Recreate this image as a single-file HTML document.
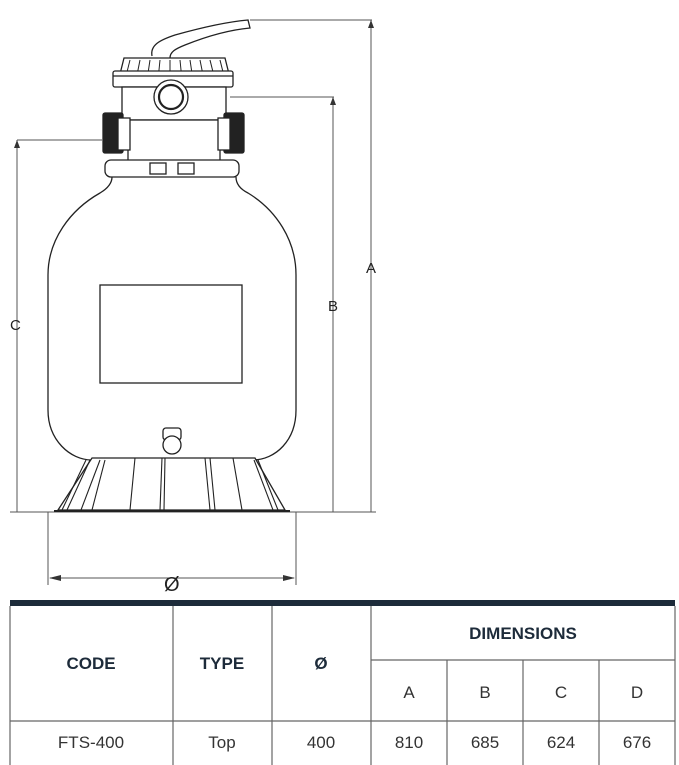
<!DOCTYPE html>
<html><head><style>
body{margin:0;background:#fff;width:679px;height:765px;overflow:hidden;font-family:"Liberation Sans",sans-serif}
svg{position:absolute;left:0;top:0}
</style></head><body>
<svg width="679" height="765" viewBox="0 0 679 765">
<g fill="none" stroke="#222" stroke-width="1.3">
<!-- dimension lines -->
<g stroke="#555" stroke-width="1">
<line x1="250" y1="20" x2="372" y2="20"/><line x1="371" y1="20" x2="371" y2="512"/>
<line x1="230" y1="97" x2="334" y2="97"/><line x1="333" y1="97" x2="333" y2="512"/>
<line x1="17" y1="140" x2="102" y2="140"/><line x1="17" y1="140" x2="17" y2="512"/>
<line x1="10" y1="512" x2="376" y2="512"/>
<line x1="48" y1="512" x2="48" y2="585"/><line x1="296" y1="512" x2="296" y2="585"/>
<line x1="50" y1="578" x2="294" y2="578"/>
</g>
<g fill="#333" stroke="none">
<polygon points="371,20 368,28 374,28"/><polygon points="333,97 330,105 336,105"/>
<polygon points="17,140 14,148 20,148"/>
<polygon points="49,578 61,575 61,581"/><polygon points="295,578 283,575 283,581"/>
</g>
<!-- handle -->
<path d="M152,56 C150,45 160,40 175,35 C200,28 225,22 248,20 L250,28 C228,30 205,37 185,45 C175,49 170,52 170,58" fill="#fff"/>
<!-- top cap -->
<path d="M118,82 L124,58 L225,58 L231,82 Z" fill="#fff"/>
<g stroke-width="1">
<line x1="130" y1="60" x2="125" y2="80"/><line x1="140" y1="60" x2="136" y2="80"/><line x1="150" y1="60" x2="147" y2="80"/><line x1="160" y1="60" x2="158" y2="80"/><line x1="170" y1="60" x2="170" y2="80"/><line x1="180" y1="60" x2="182" y2="80"/><line x1="190" y1="60" x2="193" y2="80"/><line x1="200" y1="60" x2="204" y2="80"/><line x1="210" y1="60" x2="215" y2="80"/><line x1="220" y1="60" x2="225" y2="80"/>
</g>
<rect x="113" y="71" width="120" height="16" rx="2" fill="#fff"/>
<line x1="113" y1="76" x2="233" y2="76"/>
<!-- body -->
<rect x="122" y="87" width="104" height="33" fill="#fff"/>
<circle cx="171" cy="97" r="17" fill="#fff"/><circle cx="171" cy="97" r="12" stroke-width="2.2"/>
<rect x="128" y="120" width="92" height="42" fill="#fff"/>
<rect x="103" y="113" width="20" height="40" rx="2" fill="#222"/>
<rect x="224" y="113" width="20" height="40" rx="2" fill="#222"/>
<rect x="118" y="118" width="12" height="32" fill="#fff"/><rect x="218" y="118" width="12" height="32" fill="#fff"/>
<!-- collar -->
<rect x="105" y="160" width="134" height="17" rx="6" fill="#fff"/>
<rect x="150" y="163" width="16" height="11" fill="#fff"/><rect x="178" y="163" width="16" height="11" fill="#fff"/>
<!-- tank -->
<path d="M112,177 C112,185 105,190 100,193 C70,210 48,240 48,275 L48,410 C48,440 70,460 92,460 M236,177 C236,185 242,190 248,193 C276,210 296,240 296,275 L296,410 C296,440 276,460 252,460" />
<rect x="100" y="285" width="142" height="98"/>
<!-- base -->
<path d="M92,458 L255,458 L285,510 L58,510 Z" fill="#fff"/>
<g stroke-width="1.1">
<line x1="86" y1="460" x2="62" y2="510"/><line x1="90" y1="460" x2="67" y2="510"/>
<line x1="100" y1="460" x2="81" y2="510"/><line x1="105" y1="460" x2="92" y2="510"/>
<line x1="135" y1="458" x2="130" y2="510"/><line x1="162" y1="458" x2="160" y2="510"/><line x1="165" y1="458" x2="164" y2="510"/>
<line x1="205" y1="458" x2="210" y2="510"/><line x1="210" y1="458" x2="215" y2="510"/><line x1="233" y1="458" x2="242" y2="510"/>
<line x1="254" y1="460" x2="273" y2="510"/><line x1="258" y1="460" x2="278" y2="510"/>
</g>
<line x1="54" y1="511" x2="290" y2="511" stroke-width="2"/>
<!-- drain -->
<rect x="163" y="428" width="18" height="12" rx="3" fill="#fff"/>
<circle cx="172" cy="445" r="9" fill="#fff"/>
</g>
<g font-size="15" fill="#222" font-family="Liberation Sans,sans-serif">
<text x="366" y="273">A</text><text x="328" y="311">B</text><text x="10" y="330">C</text>
<text x="164" y="591" font-size="20">Ø</text>
</g>
<!-- table -->
<rect x="10" y="600" width="665" height="6" fill="#1d2b3a"/>
<g stroke="#666" stroke-width="1.2">
<line x1="10" y1="606" x2="10" y2="765"/>
<line x1="173" y1="606" x2="173" y2="765"/><line x1="272" y1="606" x2="272" y2="765"/><line x1="371" y1="606" x2="371" y2="765"/>
<line x1="447" y1="660" x2="447" y2="765"/><line x1="523" y1="660" x2="523" y2="765"/><line x1="599" y1="660" x2="599" y2="765"/>
<line x1="675" y1="606" x2="675" y2="765"/>
<line x1="371" y1="660" x2="675" y2="660"/>
<line x1="10" y1="721" x2="675" y2="721"/>
</g>
<g font-size="17" fill="#1d2b3a" text-anchor="middle">
<text x="91" y="669" font-weight="bold">CODE</text>
<text x="222" y="669" font-weight="bold">TYPE</text>
<text x="321" y="669" font-weight="bold">Ø</text>
<text x="523" y="639" font-weight="bold">DIMENSIONS</text>
<g font-size="17" fill="#333">
<text x="409" y="698">A</text><text x="485" y="698">B</text><text x="561" y="698">C</text><text x="637" y="698">D</text>
<text x="91" y="748">FTS-400</text><text x="222" y="748">Top</text><text x="321" y="748">400</text>
<text x="409" y="748">810</text><text x="485" y="748">685</text><text x="561" y="748">624</text><text x="637" y="748">676</text>
</g>
</g>
</svg>
</body></html>
